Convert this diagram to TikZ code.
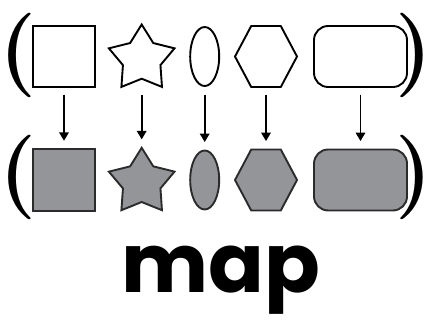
\documentclass[tikz,border=0pt]{standalone}
\usepackage{fontspec}
\newfontfamily\mapfont{Poppins}
\usepackage{xcolor}
\definecolor{shapegrey}{RGB}{148, 149, 153}
\definecolor{shapeline}{RGB}{43, 43, 43}
\usepackage{tikz}
\usetikzlibrary{shapes.geometric,shapes.symbols,arrows.meta}

\begin{document}
\begin{tikzpicture}[
  blank/.style={draw=black, line width=1.8pt, fill=white, inner sep=0pt, outer sep=0pt},
  fillin/.style={draw=shapeline, line width=1.8pt, fill=shapegrey, inner sep=0pt, outer sep=0pt},
  sq/.style={rectangle, minimum width=2.05cm, minimum height=2.05cm},
  st/.style={star, star points=5, star point ratio=1.75, minimum size=2.3cm},
  el/.style={ellipse, minimum width=0.967cm, minimum height=1.967cm},
  hx/.style={signal, signal to=west and east, signal pointer angle=124, minimum width=2.067cm, minimum height=2.033cm},
  rr/.style={rectangle, rounded corners=0.47cm, minimum width=3.1cm, minimum height=2.033cm},
  paren/.style={font=\fontsize{80}{80}\selectfont\bfseries, inner sep=0pt},
  arr/.style={-{Triangle[length=8pt,width=9pt]}, line width=1.6pt, shorten <=7pt, shorten >=8pt}
]
  \useasboundingbox (0,0) rectangle (14.4,11.167);

  % Top row
  \node[paren] (lp1) at (0.6,9.333)    {(};
  \node[blank,sq] (sq1) at (2.133,9.283) {};
  \node[blank,st] (st1) at (4.723,9.2)   {};
  \node[blank,el] (el1) at (6.823,9.283) {};
  \node[blank,hx] (hx1) at (8.867,9.283) {};
  \node[blank,rr] (rr1) at (12.017,9.283) {};
  \node[paren] (rp1) at (13.8,9.333)   {)};

  % Bottom row
  \node[paren] (lp2) at (0.6,5.25)     {(};
  \node[fillin,sq] (sq2) at (2.133,5.167) {};
  \node[fillin,st] (st2) at (4.723,5.09)  {};
  \node[fillin,el] (el2) at (6.823,5.167) {};
  \node[fillin,hx] (hx2) at (8.867,5.167) {};
  \node[fillin,rr] (rr2) at (12.017,5.167) {};
  \node[paren] (rp2) at (13.8,5.25)    {)};

  % Arrows
  \foreach \a/\b in {sq1/sq2,st1/st2,el1/el2,hx1/hx2,rr1/rr2} {
    \draw[arr] (\a |- sq1.south) -- (\b.north);
  }

  \node[font=\mapfont\fontsize{78}{78}\selectfont\bfseries, anchor=base] (word) at (7.35,1.433) {map};
\end{tikzpicture}
\end{document}
